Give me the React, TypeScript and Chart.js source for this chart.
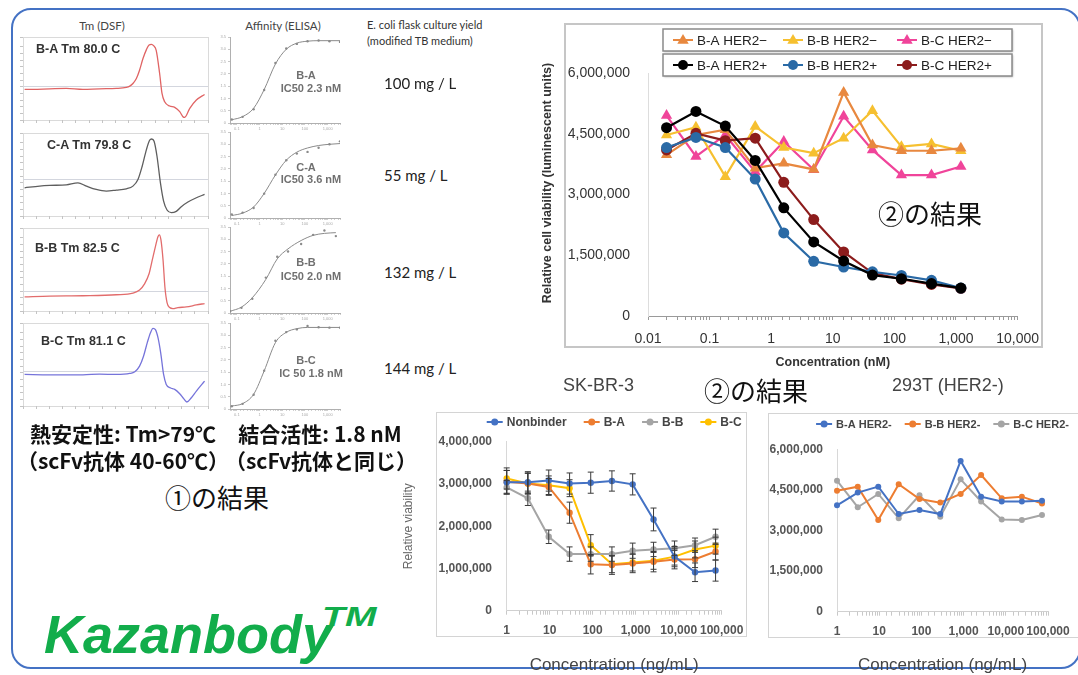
import React, { useEffect, useRef } from "react";
import { Chart, registerables } from "chart.js";

Chart.register(...registerables);

const SANS = '"Liberation Sans", Arial, Helvetica, sans-serif';
const JP = '"Noto Sans CJK JP", "Noto Sans", sans-serif';
const CAL = 'Lato, "Open Sans", sans-serif';
Chart.defaults.font.family = SANS;

// ---------------- DSF (Tm) data ----------------
const dsfNames = ["B-A Tm 80.0 C", "C-A Tm 79.8 C", "B-B Tm 82.5 C", "B-C Tm 81.1 C"];
const dsfColors = ["#e06464", "#5e5e5e", "#e26c6c", "#7674da"];
const dsfZero = [41, 44, 24.5, 42];

const dsfTempBA = [30.6, 33.8, 40.1, 46.4, 52.7, 59.0, 65.3, 69.1, 70.4, 71.6, 72.9, 74.1, 75.4, 76.7, 77.7, 78.6, 79.4, 80.4, 81.7, 82.6, 83.6, 85.5, 87.4, 89.3, 90.5, 91.2, 93.1, 95.6, 98.7];
const dsfValBA = [36.8, 36.8, 37.6, 38.0, 36.8, 37.6, 38.0, 39.2, 40.8, 44.0, 50.0, 60.0, 74.0, 84.8, 90.4, 91.2, 89.6, 84.0, 56.0, 32.0, 22.0, 16.8, 15.2, 10.0, 4.0, 3.2, 14.0, 24.0, 30.8];

const dsfTempCA = [30.6, 36.3, 40.1, 46.4, 50.8, 54.0, 57.7, 61.5, 65.3, 69.1, 71.6, 73.5, 75.1, 76.7, 77.9, 78.7, 79.6, 80.7, 82.0, 83.2, 84.5, 86.1, 88.0, 89.9, 92.4, 95.6, 98.7];
const dsfValCA = [34.0, 36.0, 36.8, 37.6, 40.0, 36.0, 32.0, 30.0, 31.2, 32.8, 36.0, 44.0, 60.0, 80.0, 91.2, 92.8, 90.0, 72.0, 40.0, 18.0, 7.2, 4.0, 5.6, 11.2, 16.8, 22.0, 26.0];

const dsfTempBB = [30.6, 40.1, 52.7, 65.3, 71.6, 74.1, 76.0, 77.7, 78.9, 80.1, 81.1, 81.6, 82.2, 83.0, 83.7, 84.5, 85.5, 86.7, 88.6, 91.8, 95.6, 98.7];
const dsfValBB = [17.1, 18.0, 18.4, 19.6, 21.6, 25.3, 32.7, 44.9, 61.2, 77.6, 89.8, 91.8, 85.7, 61.2, 28.6, 10.2, 4.1, 2.9, 4.1, 4.9, 7.3, 9.0];

const dsfTempBC = [30.6, 40.1, 52.7, 59.0, 65.3, 70.4, 72.3, 74.1, 75.6, 77.0, 78.2, 79.2, 80.1, 81.1, 82.1, 83.2, 84.2, 85.7, 87.4, 89.3, 90.8, 92.0, 93.7, 95.6, 98.7];
const dsfValBC = [38.0, 37.6, 37.6, 38.4, 38.0, 39.2, 41.2, 48.0, 60.0, 76.0, 88.0, 93.6, 92.0, 82.0, 64.0, 38.0, 26.0, 22.0, 20.0, 14.8, 8.8, 4.8, 10.0, 18.0, 30.0];

const dsfTemps = [dsfTempBA, dsfTempCA, dsfTempBB, dsfTempBC];
const dsfVals = [dsfValBA, dsfValCA, dsfValBB, dsfValBC];

// ---------------- ELISA data ----------------
const elisaNames = ["B-A", "C-A", "B-B", "B-C"];
const elisaIC50 = ["IC50 2.3 nM", "IC50 3.6 nM", "IC50 2.0 nM", "IC 50 1.8 nM"];
const elisaConc = [0.06, 0.18, 0.55, 1.6, 5, 15, 44, 130, 400, 1200, 3500];
const elisaConcBB = [0.05, 0.16, 0.48, 1.9, 6, 18, 68, 230, 720, 2300];
const elisaBA = [0.14, 0.25, 0.56, 1.34, 2.44, 3.03, 3.22, 3.33, 3.36, 3.33, 3.30];
const elisaCA = [0.14, 0.22, 0.41, 0.99, 1.76, 2.35, 2.62, 2.69, 2.86, 3.0, 3.12];
const elisaBB = [0.07, 0.21, 0.58, 1.44, 2.29, 2.5, 2.81, 3.18, 3.36, 3.13];
const elisaBC = [0.11, 0.21, 0.58, 1.56, 2.78, 3.13, 3.24, 3.38, 3.33, 3.31, 3.31];
const elisaFitBA = [0.13, 0.26, 0.6, 1.36, 2.4, 3.0, 3.25, 3.33, 3.35, 3.35, 3.35];
const elisaFitCA = [0.1, 0.2, 0.45, 1.0, 1.75, 2.35, 2.68, 2.85, 2.95, 3.0, 3.03];
const elisaFitBB = [0.07, 0.24, 0.62, 1.37, 2.2, 2.61, 2.95, 3.16, 3.24, 3.27];
const elisaFitBC = [0.12, 0.22, 0.6, 1.55, 2.7, 3.12, 3.27, 3.32, 3.32, 3.32, 3.32];
const elisaX = [elisaConc, elisaConc, elisaConcBB, elisaConc];
const elisaY = [elisaBA, elisaCA, elisaBB, elisaBC];
const elisaFit = [elisaFitBA, elisaFitCA, elisaFitBB, elisaFitBC];

const yields = ["100 mg / L", "55 mg / L", "132 mg / L", "144 mg / L"];

// ---------------- Main cytotoxicity chart (nM) ----------------
const mainConc = [0.02, 0.06, 0.18, 0.55, 1.6, 4.9, 15, 44, 130, 400, 1200];
const mainBAPlus = [4650000, 5050000, 4690000, 3840000, 2670000, 1830000, 1360000, 1010000, 920000, 800000, 690000];
const mainBBPlus = [4160000, 4410000, 4160000, 3380000, 2050000, 1350000, 1210000, 1090000, 1000000, 880000, 690000];
const mainBCPlus = [4100000, 4510000, 4330000, 4390000, 3300000, 2380000, 1580000, 1060000, 910000, 780000, 680000];
const mainBAMinus = [3980000, 4470000, 4600000, 3650000, 3770000, 3620000, 5520000, 4220000, 4080000, 4080000, 4140000];
const mainBBMinus = [4470000, 4660000, 3440000, 4680000, 4160000, 4020000, 4390000, 5070000, 4180000, 4250000, 4080000];
const mainBCMinus = [4950000, 3940000, 4470000, 3560000, 4310000, 3610000, 4930000, 4100000, 3480000, 3480000, 3690000];
const mainLabels = ["B-A HER2+", "B-B HER2+", "B-C HER2+", "B-A HER2\u2212", "B-B HER2\u2212", "B-C HER2\u2212"];
const mainColors = ["#000000", "#2a6aa6", "#8c1c1c", "#e8883f", "#f6c030", "#f0449a"];
const mainStyles = ["circle", "circle", "circle", "triangle", "triangle", "triangle"];
const mainValues = [mainBAPlus, mainBBPlus, mainBCPlus, mainBAMinus, mainBBMinus, mainBCMinus];
const mainYTicks = [0, 1500000, 3000000, 4500000, 6000000];

// ---------------- SK-BR-3 (ng/mL) ----------------
const skConc = [1, 3.1, 9.5, 29, 90, 280, 850, 2600, 8000, 24000, 72000];
const skLabels = ["Nonbinder", "B-A", "B-B", "B-C"];
const skColors = ["#4472c4", "#ed7d31", "#a5a5a5", "#ffc000"];
const skNonbinder = [3040000, 3040000, 3080000, 3010000, 3030000, 3070000, 2990000, 2160000, 1280000, 910000, 950000];
const skBA = [3050000, 3010000, 2930000, 2320000, 1100000, 1080000, 1120000, 1160000, 1210000, 1220000, 1400000];
const skBB = [2920000, 2660000, 1750000, 1340000, 1340000, 1340000, 1420000, 1450000, 1480000, 1550000, 1750000];
const skBC = [3130000, 3010000, 2970000, 2900000, 1550000, 1100000, 1140000, 1180000, 1280000, 1450000, 1540000];
const skNonbinderErr = [280000, 250000, 250000, 250000, 250000, 240000, 250000, 270000, 240000, 220000, 250000];
const skBAErr = [270000, 240000, 200000, 250000, 230000, 220000, 220000, 240000, 220000, 200000, 200000];
const skBBErr = [160000, 170000, 160000, 170000, 170000, 170000, 180000, 170000, 170000, 170000, 180000];
const skBCErr = [250000, 250000, 220000, 200000, 250000, 200000, 200000, 200000, 200000, 200000, 200000];
const skValues = [skNonbinder, skBA, skBB, skBC];
const skErrors = [skNonbinderErr, skBAErr, skBBErr, skBCErr];
const skYTicks = [0, 1000000, 2000000, 3000000, 4000000];

// ---------------- 293T (ng/mL) ----------------
const hekConc = [1, 3.1, 9.5, 29, 90, 280, 850, 2600, 8000, 24000, 72000];
const hekLabels = ["B-A HER2-", "B-B HER2-", "B-C HER2-"];
const hekColors = ["#4472c4", "#ed7d31", "#a5a5a5"];
const hekBA = [3930000, 4400000, 4620000, 3610000, 3760000, 3610000, 5570000, 4250000, 4070000, 4070000, 4100000];
const hekBB = [4470000, 4620000, 3390000, 4710000, 4160000, 4030000, 4350000, 5050000, 4190000, 4250000, 4000000];
const hekBC = [4840000, 3860000, 4350000, 3450000, 4300000, 3510000, 4890000, 4070000, 3410000, 3390000, 3570000];
const hekValues = [hekBA, hekBB, hekBC];
const hekYTicks = [0, 1500000, 3000000, 4500000, 6000000];

// ---------------- helpers ----------------
function isPow10(v: number) {
  const l = Math.log10(v);
  return Math.abs(l - Math.round(l)) < 1e-6;
}
function fmtNum(v: number) {
  return Number(v).toLocaleString("en-US", { maximumFractionDigits: 3 });
}
function pts(xs: number[], ys: number[]) {
  return ys.map((y, i) => ({ x: xs[i], y }));
}
function drawMarker(ctx: CanvasRenderingContext2D, style: string, x: number, y: number, r: number, color: string) {
  ctx.fillStyle = color;
  ctx.beginPath();
  if (style === "triangle") {
    ctx.moveTo(x, y - r);
    ctx.lineTo(x + r * 0.95, y + r * 0.62);
    ctx.lineTo(x - r * 0.95, y + r * 0.62);
    ctx.closePath();
  } else {
    ctx.arc(x, y, r, 0, Math.PI * 2);
  }
  ctx.fill();
}

const refLinePlugin = {
  id: "refLine",
  beforeDatasetsDraw(chart: any, _args: any, opts: any) {
    if (opts == null || opts.value == null) return;
    const ctx = chart.ctx;
    const y = Math.round(chart.scales.y.getPixelForValue(opts.value)) + 0.5;
    ctx.save();
    ctx.strokeStyle = opts.color || "#c9ccd6";
    ctx.lineWidth = 1;
    ctx.beginPath();
    ctx.moveTo(chart.chartArea.left, y);
    ctx.lineTo(chart.chartArea.right, y);
    ctx.stroke();
    ctx.restore();
  },
};

const errorBarPlugin = {
  id: "errorBars",
  afterDatasetsDraw(chart: any) {
    const ctx = chart.ctx;
    const ys = chart.scales.y;
    ctx.save();
    ctx.strokeStyle = "#3a3a3a";
    ctx.lineWidth = 1;
    chart.data.datasets.forEach((ds: any, di: number) => {
      if (!ds.errors) return;
      const meta = chart.getDatasetMeta(di);
      ds.errors.forEach((e: number, i: number) => {
        const p = meta.data[i];
        const v = ds.data[i].y;
        const y1 = ys.getPixelForValue(v - e);
        const y2 = ys.getPixelForValue(v + e);
        ctx.beginPath();
        ctx.moveTo(p.x, y1);
        ctx.lineTo(p.x, y2);
        ctx.moveTo(p.x - 3, y1);
        ctx.lineTo(p.x + 3, y1);
        ctx.moveTo(p.x - 3, y2);
        ctx.lineTo(p.x + 3, y2);
        ctx.stroke();
      });
    });
    ctx.restore();
  },
};

function yLabels(id: string, values: number[], font: string, color: string, gap: number) {
  return {
    id,
    afterDraw(chart: any) {
      const ctx = chart.ctx;
      const ys = chart.scales.y;
      ctx.save();
      ctx.font = font;
      ctx.fillStyle = color;
      ctx.textAlign = "right";
      ctx.textBaseline = "middle";
      values.forEach((v) => {
        ctx.fillText(fmtNum(v), chart.chartArea.left - gap, ys.getPixelForValue(v));
      });
      ctx.restore();
    },
  };
}

function lineLegend(id: string, y: number, font: string, lineLen: number, gap: number, itemGap: number, r: number) {
  return {
    id,
    afterDraw(chart: any) {
      const ctx = chart.ctx;
      ctx.save();
      ctx.font = font;
      const ds = chart.data.datasets;
      const widths = ds.map((d: any) => ctx.measureText(d.label).width);
      let total = 0;
      widths.forEach((w: number) => (total += lineLen + gap + w));
      total += itemGap * (ds.length - 1);
      let x = (chart.chartArea.left + chart.chartArea.right) / 2 - total / 2;
      ds.forEach((d: any, i: number) => {
        ctx.strokeStyle = d.borderColor;
        ctx.lineWidth = 2;
        ctx.beginPath();
        ctx.moveTo(x, y);
        ctx.lineTo(x + lineLen, y);
        ctx.stroke();
        drawMarker(ctx, "circle", x + lineLen / 2, y, r, d.borderColor);
        ctx.fillStyle = "#444";
        ctx.textBaseline = "middle";
        ctx.textAlign = "left";
        ctx.fillText(d.label, x + lineLen + gap, y + 0.5);
        x += lineLen + gap + widths[i] + itemGap;
      });
      ctx.restore();
    },
  };
}

const mainLegendPlugin = {
  id: "mainLegend",
  afterDraw(chart: any) {
    const ctx = chart.ctx;
    const rows = [
      [3, 4, 5],
      [0, 1, 2],
    ];
    const boxL = 133;
    const boxW = 349;
    const boxH = 22;
    const tops = [9, 34];
    const cols = [143, 253, 367];
    ctx.save();
    rows.forEach((row, ri) => {
      const top = tops[ri];
      ctx.fillStyle = "#fff";
      ctx.shadowColor = "rgba(0,0,0,0.3)";
      ctx.shadowBlur = 2;
      ctx.shadowOffsetX = 1;
      ctx.shadowOffsetY = 1;
      ctx.fillRect(boxL, top, boxW, boxH);
      ctx.shadowColor = "transparent";
      ctx.strokeStyle = "#8a8a8a";
      ctx.lineWidth = 1.5;
      ctx.strokeRect(boxL, top, boxW, boxH);
      const cy = top + boxH / 2;
      row.forEach((di, ci) => {
        const ds = chart.data.datasets[di];
        const x0 = cols[ci];
        ctx.strokeStyle = ds.borderColor;
        ctx.lineWidth = 2;
        ctx.beginPath();
        ctx.moveTo(x0, cy);
        ctx.lineTo(x0 + 20, cy);
        ctx.stroke();
        drawMarker(ctx, ds.pointStyle, x0 + 10, cy, ds.pointStyle === "triangle" ? 6 : 5, ds.borderColor);
        ctx.fillStyle = "#222";
        ctx.font = `13.5px ${SANS}`;
        ctx.textBaseline = "middle";
        ctx.textAlign = "left";
        ctx.fillText(ds.label, x0 + 24, cy + 1);
      });
    });
    ctx.restore();
  },
};

function yTitle(id: string, text: string, font: string, color: string, cx: number, cy: number) {
  return {
    id,
    afterDraw(chart: any) {
      const ctx = chart.ctx;
      ctx.save();
      ctx.translate(cx, cy);
      ctx.rotate(-Math.PI / 2);
      ctx.font = font;
      ctx.fillStyle = color;
      ctx.textAlign = "center";
      ctx.textBaseline = "middle";
      ctx.fillText(text, 0, 0);
      ctx.restore();
    },
  };
}

// ---------------- configs ----------------
function dsfConfig(i: number) {
  return {
    type: "line",
    data: {
      datasets: [
        {
          data: pts(dsfTemps[i], dsfVals[i]),
          borderColor: dsfColors[i],
          borderWidth: 1.3,
          pointRadius: 0,
          cubicInterpolationMode: "monotone",
          fill: false,
        },
      ],
    },
    options: {
      responsive: false,
      animation: false,
      events: [],
      layout: { padding: { left: 0, top: 2, right: 7, bottom: 0 } },
      plugins: { legend: { display: false }, tooltip: { enabled: false }, refLine: { value: dsfZero[i], color: "#d3d6de" } },
      scales: {
        x: {
          type: "linear",
          min: 30,
          max: 100,
          afterFit: (s: any) => {
            s.height = 12;
          },
          border: { display: false },
          grid: { drawOnChartArea: false, tickLength: 3, color: "#c4c4c4" },
          ticks: { display: false, stepSize: 5 },
        },
        y: {
          min: 0,
          max: 100,
          afterFit: (s: any) => {
            s.width = 8;
          },
          border: { display: false },
          grid: { drawOnChartArea: false, tickLength: 3, color: "#c4c4c4" },
          ticks: { display: false, stepSize: 8 },
        },
      },
    },
    plugins: [refLinePlugin],
  };
}

function elisaConfig(i: number) {
  return {
    type: "line",
    data: {
      datasets: [
        {
          label: "fit",
          data: pts(elisaX[i], elisaFit[i]),
          borderColor: "#8a8a8a",
          borderWidth: 1,
          pointRadius: 0,
          cubicInterpolationMode: "monotone",
          fill: false,
        },
        {
          label: "measured",
          data: pts(elisaX[i], elisaY[i]),
          showLine: false,
          backgroundColor: "#8a8a8a",
          borderColor: "#8a8a8a",
          pointRadius: 1.2,
          pointBorderWidth: 0,
        },
      ],
    },
    options: {
      responsive: false,
      animation: false,
      events: [],
      layout: { padding: { left: 0, top: 6, right: 6, bottom: 0 } },
      plugins: { legend: { display: false }, tooltip: { enabled: false } },
      scales: {
        x: {
          type: "logarithmic",
          min: 0.05,
          max: 3500,
          afterFit: (s: any) => {
            s.height = 8;
          },
          border: { display: true, color: "#b0b0b0" },
          grid: { drawOnChartArea: false, tickLength: 2, color: "#d0d0d0" },
          ticks: {
            autoSkip: false,
            maxRotation: 0,
            padding: 1,
            color: "#aaa",
            font: { size: 4 },
            callback: (v: any) => (isPow10(Number(v)) ? fmtNum(Number(v)) : ""),
          },
        },
        y: {
          min: 0,
          max: 3.5,
          afterFit: (s: any) => {
            s.width = 16;
          },
          border: { display: true, color: "#b0b0b0" },
          grid: { drawOnChartArea: false, tickLength: 2, color: "#c8c8c8" },
          ticks: { autoSkip: false, stepSize: 0.5, padding: 2, color: "#aaa", font: { size: 4 } },
        },
      },
    },
  };
}

function mainConfig() {
  return {
    type: "line",
    data: {
      datasets: mainValues.map((vals, i) => ({
        label: mainLabels[i],
        data: pts(mainConc, vals),
        borderColor: mainColors[i],
        backgroundColor: mainColors[i],
        borderWidth: 2.2,
        pointStyle: mainStyles[i],
        pointRadius: mainStyles[i] === "triangle" ? 6.5 : 5.5,
        pointBorderWidth: 0,
        tension: 0,
        fill: false,
        clip: false,
      })),
    },
    options: {
      responsive: false,
      animation: false,
      events: [],
      layout: { padding: { left: 11, top: 53, right: 31, bottom: 10 } },
      plugins: { legend: { display: false }, tooltip: { enabled: false } },
      scales: {
        x: {
          type: "logarithmic",
          min: 0.01,
          max: 10000,
          afterFit: (s: any) => {
            s.height = 54;
          },
          border: { display: true, color: "#9a9a9a", width: 1 },
          grid: { drawOnChartArea: false, tickLength: 4, color: "#9a9a9a" },
          ticks: {
            autoSkip: false,
            maxRotation: 0,
            padding: 11,
            color: "#333",
            font: { size: 14 },
            callback: (v: any) => (isPow10(Number(v)) ? fmtNum(Number(v)) : ""),
          },
          title: {
            display: true,
            text: "Concentration (nM)",
            color: "#333",
            font: { size: 12.5, weight: "bold" },
            padding: 0,
          },
        },
        y: {
          min: 0,
          max: 6000000,
          afterFit: (s: any) => {
            s.width = 107;
          },
          afterBuildTicks: (s: any) => {
            s.ticks = mainYTicks.map((v) => ({ value: v }));
          },
          border: { display: true, color: "#dddddd" },
          grid: { display: false, drawTicks: false },
          ticks: { padding: 18, color: "#333", font: { size: 14 }, callback: (v: any) => fmtNum(Number(v)) },
        },
      },
    },
    plugins: [
      mainLegendPlugin,
      yTitle("mainYTitle", "Relative cell viability (luminescent units)", `bold 12.5px ${SANS}`, "#333", 18, 163),
    ],
  };
}

function skConfig() {
  return {
    type: "line",
    data: {
      datasets: skValues.map((vals, i) => ({
        label: skLabels[i],
        data: pts(skConc, vals),
        errors: skErrors[i],
        borderColor: skColors[i],
        backgroundColor: skColors[i],
        borderWidth: 2,
        pointRadius: 3.2,
        pointBorderWidth: 0,
        tension: 0,
        fill: false,
        clip: false,
      })),
    },
    options: {
      responsive: false,
      animation: false,
      events: [],
      layout: { padding: { left: 1, top: 41.7, right: 38.3, bottom: 4.8 } },
      plugins: { legend: { display: false }, tooltip: { enabled: false } },
      scales: {
        x: {
          type: "logarithmic",
          min: 1,
          max: 100000,
          afterFit: (s: any) => {
            s.height = 64.5;
          },
          border: { display: true, color: "#d0d0d0" },
          grid: { drawOnChartArea: false, tickLength: 4, color: "#c8c8c8" },
          ticks: {
            autoSkip: false,
            maxRotation: 0,
            padding: 9,
            color: "#555",
            font: { size: 12, weight: "bold" },
            callback: (v: any) => (isPow10(Number(v)) ? fmtNum(Number(v)) : ""),
          },
          title: { display: true, text: "Concentration (ng/mL)", color: "#444", font: { size: 17 }, padding: 0 },
        },
        y: {
          min: 0,
          max: 4000000,
          afterFit: (s: any) => {
            s.width = 105.7;
          },
          border: { display: true, color: "#d8d8d8" },
          grid: { display: false, drawTicks: false },
          ticks: { display: false, stepSize: 1000000 },
          title: { display: true, text: "Relative viability", color: "#666", font: { size: 12 }, padding: 0 },
        },
      },
    },
    plugins: [
      errorBarPlugin,
      yLabels("skY", skYTicks, `bold 12px ${SANS}`, "#555", 14.7),
      lineLegend("skLegend", 22, `bold 12px ${SANS}`, 16, 4, 17, 3.5),
    ],
  };
}

function hekConfig() {
  return {
    type: "line",
    data: {
      datasets: hekValues.map((vals, i) => ({
        label: hekLabels[i],
        data: pts(hekConc, vals),
        borderColor: hekColors[i],
        backgroundColor: hekColors[i],
        borderWidth: 2,
        pointRadius: 3,
        pointBorderWidth: 0,
        tension: 0,
        fill: false,
        clip: false,
      })),
    },
    options: {
      responsive: false,
      animation: false,
      events: [],
      layout: { padding: { left: 0, top: 49.3, right: 26, bottom: 4.8 } },
      plugins: { legend: { display: false }, tooltip: { enabled: false } },
      scales: {
        x: {
          type: "logarithmic",
          min: 1,
          max: 100000,
          afterFit: (s: any) => {
            s.height = 63.5;
          },
          border: { display: true, color: "#d0d0d0" },
          grid: { drawOnChartArea: false, tickLength: 4, color: "#c8c8c8" },
          ticks: {
            autoSkip: false,
            maxRotation: 0,
            padding: 8.3,
            color: "#555",
            font: { size: 12, weight: "bold" },
            callback: (v: any) => (isPow10(Number(v)) ? fmtNum(Number(v)) : ""),
          },
          title: { display: true, text: "Concentration (ng/mL)", color: "#444", font: { size: 17 }, padding: 0 },
        },
        y: {
          min: 0,
          max: 6000000,
          afterFit: (s: any) => {
            s.width = 77;
          },
          border: { display: true, color: "#d8d8d8" },
          grid: { display: false, drawTicks: false },
          ticks: { display: false, stepSize: 1500000 },
        },
      },
    },
    plugins: [yLabels("hekY", hekYTicks, `bold 12px ${SANS}`, "#555", 14), lineLegend("hekLegend", 24, `bold 11px ${SANS}`, 16, 4, 13, 3.5)],
  };
}

// ---------------- components ----------------
function ChartCanvas(props: { left: number; top: number; width: number; height: number; make: () => any }) {
  const ref = useRef<HTMLCanvasElement | null>(null);
  useEffect(() => {
    const chart = new Chart(ref.current as HTMLCanvasElement, props.make());
    return () => chart.destroy();
  }, []);
  return (
    <canvas
      ref={ref}
      width={props.width}
      height={props.height}
      style={{ position: "absolute", left: props.left, top: props.top, width: props.width, height: props.height }}
    />
  );
}

function Txt(props: { x: number; y: number; size: number; font?: string; color?: string; weight?: any; align?: string; style?: any; children: any }) {
  const align = props.align || "left";
  const tx = align === "center" ? "-50%" : align === "right" ? "-100%" : "0";
  return (
    <div
      style={{
        position: "absolute",
        left: props.x,
        top: props.y - props.size / 2,
        fontSize: props.size,
        lineHeight: 1,
        fontFamily: props.font || SANS,
        color: props.color || "#222",
        fontWeight: props.weight || "normal",
        whiteSpace: "nowrap",
        transform: `translateX(${tx})`,
        ...(props.style || {}),
      }}
    >
      {props.children}
    </div>
  );
}

const dsfTops = [37, 133, 228, 323];
const dsfTitlePos = [
  [36, 49],
  [47, 145],
  [35, 248],
  [41, 341],
];
const elisaTops = [37, 132, 227, 323];
const elisaNamePos = [75, 167, 262, 360];
const elisaICPos = [88, 179, 276, 373];
const yieldPos = [83, 175, 272, 368];

export default function App() {
  return (
    <div style={{ position: "absolute", left: 0, top: 0, width: 1078, height: 675, overflow: "hidden", background: "#fff" }}>
      <div
        style={{
          position: "absolute",
          left: 11,
          top: 8,
          width: 1070,
          height: 661,
          boxSizing: "border-box",
          border: "2.5px solid #4472c4",
          borderRadius: 20,
        }}
      />

      <Txt x={102} y={26} size={11.5} font={CAL} color="#444" align="center">Tm (DSF)</Txt>
      <Txt x={283} y={26} size={11.5} font={CAL} color="#444" align="center">Affinity (ELISA)</Txt>
      <Txt x={367} y={24} size={11} font={CAL} color="#333">E. coli flask culture yield</Txt>
      <Txt x={367} y={40.5} size={11} font={CAL} color="#333">(modified TB medium)</Txt>

      {dsfTops.map((t, i) => (
        <div
          key={"box" + i}
          style={{ position: "absolute", left: 23, top: t, width: 186, height: 84, boxSizing: "border-box", border: "1px solid #dadada" }}
        />
      ))}
      {dsfTops.map((t, i) => (
        <ChartCanvas key={"dsf" + i} left={15} top={t - 2} width={200} height={97} make={() => dsfConfig(i)} />
      ))}
      {dsfNames.map((n, i) => (
        <Txt key={"dn" + i} x={dsfTitlePos[i][0]} y={dsfTitlePos[i][1]} size={12.5} weight="bold" color="#333">
          {n}
        </Txt>
      ))}

      {elisaTops.map((t, i) => (
        <ChartCanvas key={"el" + i} left={214} top={t - 6} width={132} height={100} make={() => elisaConfig(i)} />
      ))}
      {elisaNames.map((n, i) => (
        <Txt key={"en" + i} x={306} y={elisaNamePos[i]} size={11} weight="bold" color="#707070" align="center">
          {n}
        </Txt>
      ))}
      {elisaIC50.map((n, i) => (
        <Txt key={"ei" + i} x={311} y={elisaICPos[i]} size={11} weight="bold" color="#707070" align="center">
          {n}
        </Txt>
      ))}

      {yields.map((y, i) => (
        <Txt key={"y" + i} x={384} y={yieldPos[i]} size={15} font={CAL} color="#222">
          {y}
        </Txt>
      ))}

      <Txt x={123} y={433} size={21} font={JP} weight="bold" color="#111" align="center">熱安定性: Tm&gt;79℃</Txt>
      <Txt x={123} y={460} size={21} font={JP} weight="bold" color="#111" align="center">（scFv抗体 40-60℃）</Txt>
      <Txt x={320} y={433} size={21} font={JP} weight="bold" color="#111" align="center">結合活性: 1.8 nM</Txt>
      <Txt x={321} y={460} size={21} font={JP} weight="bold" color="#111" align="center">（scFv抗体と同じ）</Txt>
      <Txt x={217} y={497} size={26} font={JP} color="#111" align="center">①の結果</Txt>

      <div
        style={{
          position: "absolute",
          left: 44,
          top: 653 - 0.8465 * 54,
          fontSize: 54,
          lineHeight: 1,
          fontFamily: SANS,
          fontWeight: "bold",
          fontStyle: "italic",
          color: "#12ad4b",
          whiteSpace: "nowrap",
        }}
      >
        Kazanbody
        <span
          style={{
            display: "inline-block",
            fontSize: 27,
            position: "relative",
            top: -27,
            marginLeft: -10,
            transform: "scaleX(1.4)",
            transformOrigin: "left center",
          }}
        >
          TM
        </span>
      </div>

      <div
        style={{ position: "absolute", left: 564, top: 23, width: 479, height: 325, boxSizing: "border-box", border: "2px solid #c6c6c6" }}
      />
      <ChartCanvas left={530} top={20} width={520} height={360} make={mainConfig} />
      <Txt x={930} y={213} size={26} font={JP} color="#111" align="center">②の結果</Txt>

      <Txt x={563} y={385} size={18} color="#444">SK-BR-3</Txt>
      <Txt x={892} y={385} size={18} color="#444">293T (HER2-)</Txt>
      <Txt x={756} y={390} size={26} font={JP} color="#111" align="center">②の結果</Txt>

      <div
        style={{ position: "absolute", left: 436, top: 412, width: 311, height: 225, boxSizing: "border-box", border: "1px solid #d4d4d4" }}
      />
      <ChartCanvas left={400} top={400} width={360} height={280} make={skConfig} />

      <div
        style={{ position: "absolute", left: 768, top: 413, width: 312, height: 225, boxSizing: "border-box", border: "1px solid #d4d4d4" }}
      />
      <ChartCanvas left={760} top={400} width={318} height={280} make={hekConfig} />
    </div>
  );
}
